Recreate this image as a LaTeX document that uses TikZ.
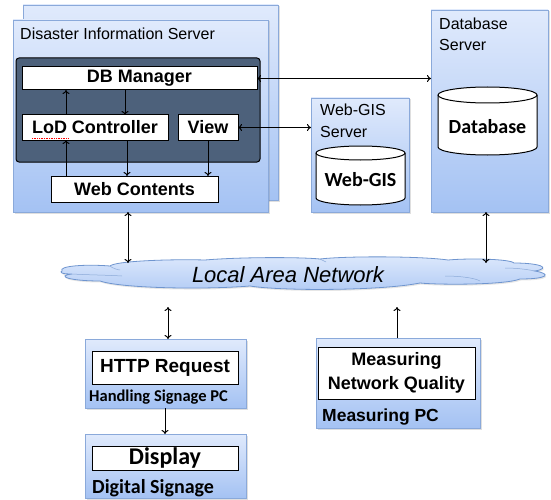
\documentclass[tikz,border=0pt]{standalone}
\usepackage{fontspec}
\setmainfont{Liberation Sans}
\newfontfamily\carl{Carlito}
\usetikzlibrary{arrows.meta,shadows,calc}
\definecolor{srvtop}{HTML}{E0EAFC}
\definecolor{srvbot}{HTML}{A4C2F3}
\definecolor{srvline}{HTML}{8AA9DA}
\definecolor{panelfill}{HTML}{4D617B}
\definecolor{cloudtop}{HTML}{DCE8FC}
\definecolor{cloudbot}{HTML}{B3CCF5}
\definecolor{cloudline}{HTML}{6F95CF}
\newcommand\titlefnt{\fontsize{16}{21}\selectfont}
\newcommand\boxfnt{\fontsize{18}{22}\selectfont\bfseries}
\newcommand\carlfnt[1]{\carl\bfseries\fontsize{#1}{#1}\selectfont}
\begin{document}
\begin{tikzpicture}[x=1pt,y=-1pt,
  server/.style={draw=srvline, line width=0.8pt, top color=srvtop, bottom color=srvbot,
    anchor=north west, inner sep=0, outer sep=0,
    drop shadow={shadow xshift=1.5pt, shadow yshift=-1.5pt, opacity=0.25}},
  wbox/.style={draw, line width=1pt, fill=white, anchor=north west, inner sep=0, outer sep=0},
  panelbox/.style={draw, line width=1pt, fill=panelfill, rounded corners=3pt,
    anchor=north west, inner sep=0, outer sep=0},
  title/.style={anchor=base west, inner sep=0, align=left, font=\titlefnt},
  cyl/.style={draw, line width=1pt, fill=white},
  arr/.style={line width=1pt, -{To[length=4pt,width=7pt]}},
  darr/.style={line width=1pt, {To[length=4pt,width=7pt]}-{To[length=4pt,width=7pt]}}]
\useasboundingbox (0,0) rectangle (551,500);

% Disaster Information Server
\node[server, minimum width=255pt, minimum height=195pt] (disback) at (23,5) {};
\node[server, minimum width=255pt, minimum height=192pt] (dis) at (13,20) {};
\node[title] (distitle) at (20,40) {Disaster Information Server};
\node[panelbox, minimum width=244pt, minimum height=104pt] (panel) at (16,58) {};
\node[wbox, minimum width=235pt, minimum height=23pt] (dbm) at (22,67) {\boxfnt DB Manager};
\node[wbox, minimum width=146pt, minimum height=25pt] (lod) at (22,115) {\boxfnt LoD Controller};
\node[wbox, minimum width=60pt, minimum height=25pt] (view) at (178,115) {\boxfnt View};
\node[wbox, minimum width=167pt, minimum height=26pt] (web) at (51,176) {\boxfnt Web Contents};
\draw[red, densely dotted, line width=0.7pt] (32,138.5) -- (68,138.5);

\coordinate (x66) at (66,0);
\coordinate (x125) at (125,0);
\coordinate (x127) at (127,0);
\coordinate (x208) at (208,0);
\draw[arr] (lod.north -| x66) -- (dbm.south -| x66);
\draw[arr] (dbm.south -| x125) -- (lod.north -| x125);
\draw[arr] (lod.south -| x127) -- (web.north -| x127);
\draw[arr] (view.south -| x208) -- (web.north -| x208);
\draw[arr] (web.north -| x66) -- (lod.south -| x66);

% Web-GIS Server
\node[server, minimum width=98pt, minimum height=114pt] (gis) at (311,98) {};
\node[title] (gistitle) at (320,137) {Web-GIS\\Server};
\filldraw[cyl] (316,153) -- (316,198) arc[start angle=180, end angle=360, x radius=44.5pt, y radius=7pt]
  -- (405,153) arc[start angle=0, end angle=180, x radius=44.5pt, y radius=7pt] -- cycle;
\draw[line width=1pt] (316,153) arc[start angle=180, end angle=360, x radius=44.5pt, y radius=7pt];
\node (gistext) at (360.5,180) {\carlfnt{20}Web-GIS};

% Database Server
\node[server, minimum width=117pt, minimum height=202pt] (dbs) at (431,10) {};
\node[title] (dbstitle) at (439,51) {Database\\Server};
\filldraw[cyl] (438,95) -- (438,147) arc[start angle=180, end angle=360, x radius=49.5pt, y radius=8pt]
  -- (537,95) arc[start angle=0, end angle=180, x radius=49.5pt, y radius=8pt] -- cycle;
\draw[line width=1pt] (438,95) arc[start angle=180, end angle=360, x radius=49.5pt, y radius=8pt];
\node (dbtext) at (487.5,127) {\carlfnt{20}Database};

% connections between servers
\draw[darr] (dbm.east) -- (dbm.east -| dbs.west);
\draw[darr] (view.east) -- (view.east -| gis.west);

% LAN cloud
\path[draw=cloudline, line width=0.8pt, top color=cloudtop, bottom color=cloudbot,
  drop shadow={shadow xshift=1pt, shadow yshift=-1.5pt, opacity=0.2}]
  (62,271)
  .. controls (58,266) and (85,264) .. (110,266)
  .. controls (115,261) and (170,259) .. (205,260)
  .. controls (240,257) and (300,257) .. (320,259)
  .. controls (345,256) and (420,256) .. (448,260)
  .. controls (470,258) and (510,259) .. (514,263)
  .. controls (540,263) and (552,268) .. (535,271)
  .. controls (552,274) and (548,279) .. (520,279)
  .. controls (505,285) and (440,285) .. (420,283)
  .. controls (380,291) and (280,291) .. (250,286)
  .. controls (200,290) and (120,288) .. (100,281)
  .. controls (70,281) and (55,276) .. (72,274)
  .. controls (60,274) and (60,272) .. (62,271) -- cycle;
\draw[cloudline!80, line width=0.5pt] (72,274) .. controls (90,275) and (105,275) .. (122,276);
\draw[cloudline!80, line width=0.5pt] (110,266) .. controls (112,268) and (118,270) .. (120,270);
\draw[cloudline!80, line width=0.5pt] (445,276) .. controls (460,276) and (475,278) .. (480,281);
\draw[cloudline!80, line width=0.5pt] (505,268) .. controls (515,268) and (525,269) .. (535,271);
\draw[cloudline!80, line width=0.5pt] (320,259) .. controls (322,260) and (324,261) .. (326,262);
\node[inner sep=0] (lantext) at (288,275) {\fontsize{22}{24}\selectfont\itshape Local Area Network};

\coordinate (lanA) at (128,263);
\coordinate (lanB) at (486,263);
\coordinate (lanC) at (168,307);
\coordinate (lanD) at (397,307);
\draw[darr] (dis.south -| lanA) -- (lanA);
\draw[darr] (dbs.south -| lanB) -- (lanB);

% Handling Signage PC
\node[server, minimum width=161pt, minimum height=69pt] (hs) at (85,339) {};
\node[wbox, minimum width=146pt, minimum height=33pt] (http) at (92,351) {\fontsize{19}{22}\selectfont\bfseries HTTP Request};
\node[anchor=west, inner sep=0] (hslabel) at (89,397) {\carlfnt{16.5}Handling Signage PC};

% Digital Signage
\node[server, minimum width=161pt, minimum height=64pt] (ds) at (85,434) {};
\node[wbox, minimum width=146pt, minimum height=24pt] (disp) at (92,446) {\carlfnt{24}Display};
\node[anchor=west, inner sep=0] (dslabel) at (92,488) {\carlfnt{20}Digital Signage};

% Measuring PC
\node[server, minimum width=164pt, minimum height=90pt] (mpc) at (316,338) {};
\node[wbox, minimum width=157pt, minimum height=52pt, align=center,
  font=\fontsize{18}{24}\selectfont\bfseries] (mnq) at (318,347) {Measuring\\Network Quality};
\node[anchor=west, inner sep=0] (mpclabel) at (322,417) {\fontsize{17.5}{20}\selectfont\bfseries Measuring PC};

\coordinate (x165) at (165,0);
\draw[darr] (lanC) -- (hs.north -| lanC);
\draw[arr] (mpc.north -| lanD) -- (lanD);
\draw[arr] (hs.south -| x165) -- (ds.north -| x165);
\end{tikzpicture}
\end{document}
